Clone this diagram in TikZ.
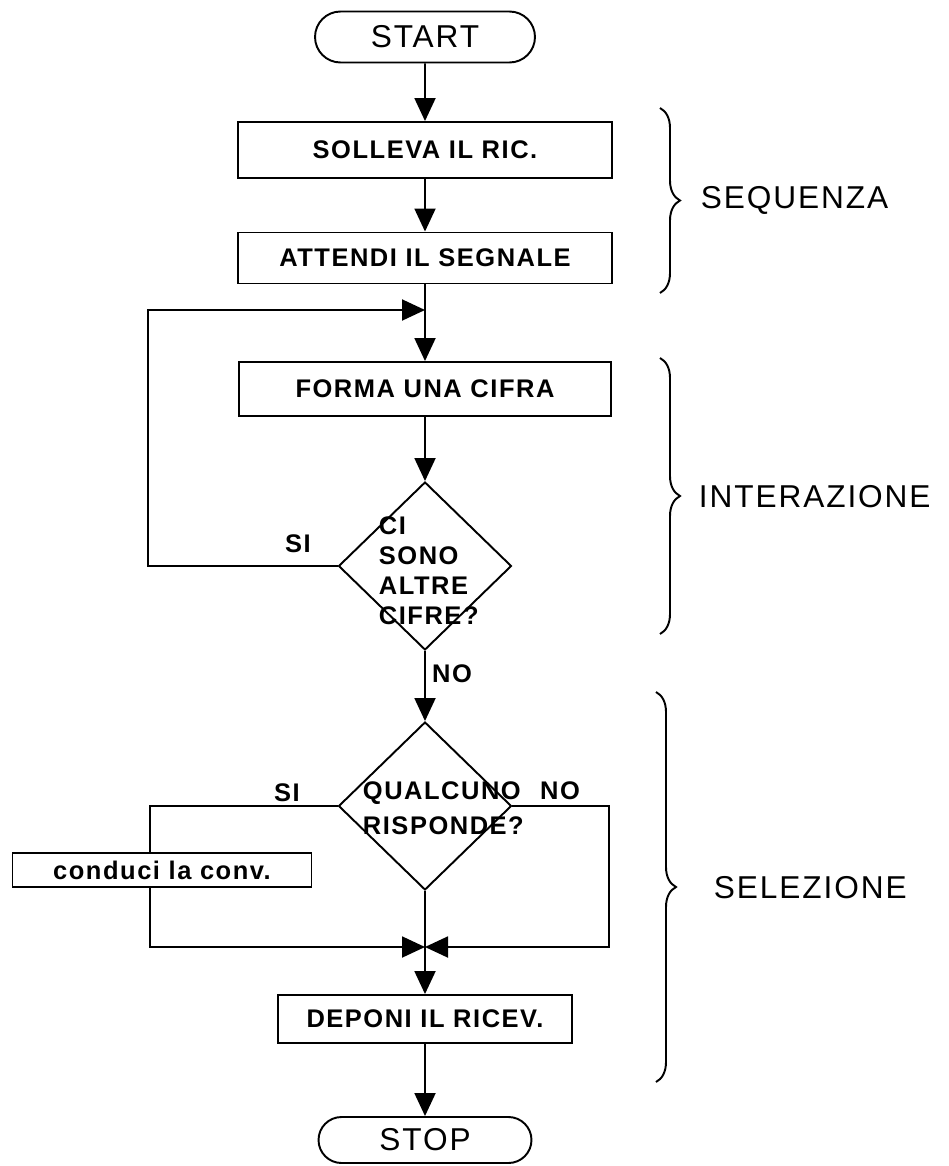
\documentclass[tikz,border=0pt]{standalone}
\usepackage{fontspec}
\setmainfont{Liberation Sans}[LetterSpace=6]
\usetikzlibrary{shapes.geometric,shapes.misc,arrows.meta,decorations.pathreplacing}

\begin{document}
\begin{tikzpicture}[x=0.02cm, y=-0.02cm, line width=1.1pt,
        box/.style={draw, rectangle, inner sep=0pt, font=\fontsize{14.5}{17}\selectfont\bfseries},
        term/.style={draw, rounded rectangle, inner sep=0pt, font=\fontsize{18}{21}\selectfont},
        test/.style={draw, diamond, minimum width=3.46cm, minimum height=3.36cm, inner sep=0pt},
        tag/.style={inner sep=0pt, font=\fontsize{14.5}{17}\selectfont\bfseries},
        side/.style={anchor=west, inner sep=0pt, font=\fontsize{18}{21}\selectfont},
        flow/.style={-{Triangle[length=0.46cm, width=0.42cm]}},
        group/.style={decorate, decoration={brace, amplitude=0.4cm}}]
            \useasboundingbox (0,0) rectangle (949,1166);

            \node[term, minimum width=4.4cm, minimum height=1.02cm] (start) at (425,37) {START};
            \node[box, minimum width=7.48cm, minimum height=1.12cm] (ric) at (425,150) {SOLLEVA IL RIC.};
            \node[box, minimum width=7.48cm, minimum height=1.02cm] (segnale) at (425,258) {ATTENDI IL SEGNALE};
            \coordinate (loop) at (425,310);
            \node[box, minimum width=7.44cm, minimum height=1.08cm] (cifra) at (425,389) {FORMA UNA CIFRA};

            \node[test] (altre) at (425,566) {};
            \node[tag, anchor=west, align=left] (altretxt) at (378,571) {CI\\SONO\\ALTRE\\CIFRE?};
            \node[tag] (si1) at (298,544) {SI};
            \node[tag] (no1) at (452,674) {NO};

            \node[test] (risponde) at (425,806) {};
            \node[tag, anchor=west, align=left, font=\fontsize{14.5}{20}\selectfont\bfseries] (rispondetxt) at (362,808) {QUALCUNO\\RISPONDE?};
            \node[tag] (si2) at (287,793) {SI};
            \node[tag] (no2) at (560,791) {NO};

            \node[box, minimum width=5.98cm, minimum height=0.68cm] (conv) at (162,870) {conduci la conv.};
            \coordinate (yes) at (150,947);
            \coordinate (merge) at (425,947);
            \node[box, minimum width=5.88cm, minimum height=0.96cm] (ricev) at (425,1019) {DEPONI IL RICEV.};
            \node[term, minimum width=4.26cm, minimum height=0.92cm] (stop) at (425,1140) {STOP};

            \node[side] (seq) at (700,200) {SEQUENZA};
            \node[side] (iter) at (698,497) {INTERAZIONE};
            \node[side] (sel) at (713,888) {SELEZIONE};

            \draw[flow] (start) -- (ric);
            \draw[flow] (ric) -- (segnale);
            \draw (segnale) -- (loop);
            \draw[flow] (loop) -- (cifra);
            \draw[flow] (cifra) -- (altre);
            \draw[flow] (altre.west) -- ++(-190,0) |- (loop);
            \draw[flow] (altre) -- (risponde);

            \draw (risponde.west) -| (yes |- conv.north);
            \draw[flow] (yes |- conv.south) -- (yes) -- (merge);
            \draw[flow] (risponde.east) -- ++(97,0) |- (merge);
            \draw[flow] (risponde) -- (ricev);
            \draw[flow] (ricev) -- (stop);

            \draw[group] (660,108) -- (660,293);
            \draw[group] (660,358) -- (660,634);
            \draw[group] (656,692) -- (656,1082);
\end{tikzpicture}
\end{document}
